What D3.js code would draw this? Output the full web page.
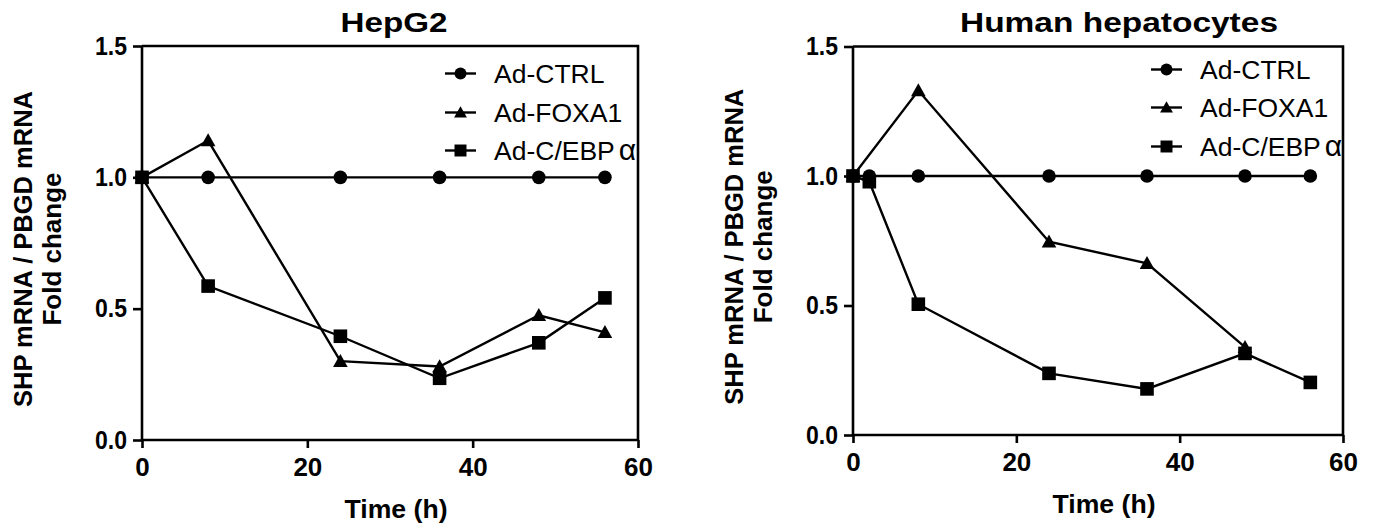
<!DOCTYPE html>
<html><head><meta charset="utf-8">
<script src="https://cdn.jsdelivr.net/npm/d3@7"></script>
<style>
body{margin:0;background:#fff;}
svg{display:block;}
text{font-family:"Liberation Sans",Arial,Helvetica,sans-serif;fill:#000;}
</style>
</head><body>
<svg id="chart" width="1385" height="526"></svg>
<script>
// ---------------- DATA ----------------
const seriesNames = ["Ad-CTRL", "Ad-FOXA1", "Ad-C/EBP"];
const seriesShapes = ["circle", "triangle", "square"];
const xTickValues = [0, 20, 40, 60];
const yTickValues = [0, 0.5, 1.0, 1.5];
const yTickLabels = ["0.0", "0.5", "1.0", "1.5"];

// HepG2
const hepTitle = "HepG2";
const hepCtrlTime = [0, 8, 24, 36, 48, 56];
const hepCtrlVal = [1.0, 1.0, 1.0, 1.0, 1.0, 1.0];
const hepFoxa1Time = [0, 8, 24, 36, 48, 56];
const hepFoxa1Val = [1.0, 1.14, 0.30, 0.28, 0.475, 0.41];
const hepCebpaTime = [0, 8, 24, 36, 48, 56];
const hepCebpaVal = [1.0, 0.586, 0.395, 0.235, 0.37, 0.541];

// Human hepatocytes
const humTitle = "Human hepatocytes";
const humCtrlTime = [0, 2, 8, 24, 36, 48, 56];
const humCtrlVal = [1.0, 1.0, 1.0, 1.0, 1.0, 1.0, 1.0];
const humFoxa1Time = [0, 8, 24, 36, 48];
const humFoxa1Val = [1.0, 1.33, 0.746, 0.663, 0.339];
const humCebpaTime = [0, 2, 8, 24, 36, 48, 56];
const humCebpaVal = [1.0, 0.978, 0.505, 0.238, 0.178, 0.315, 0.203];

const xLabel = "Time (h)";
const yLabel1 = "SHP mRNA / PBGD mRNA";
const yLabel2 = "Fold change";

// ---------------- LAYOUT ----------------
const panels = [
  { title: hepTitle, left: 142, right: 638, bottom: 440, top: 46,
    titleX: 394, titleW: 107, legendX: 445, legendY: [83, 122, 160],
    series: [[hepCtrlTime, hepCtrlVal], [hepFoxa1Time, hepFoxa1Val], [hepCebpaTime, hepCebpaVal]] },
  { title: humTitle, left: 853, right: 1343, bottom: 435, top: 46.5,
    titleX: 1119, titleW: 318, legendX: 1151, legendY: [79, 117, 156],
    series: [[humCtrlTime, humCtrlVal], [humFoxa1Time, humFoxa1Val], [humCebpaTime, humCebpaVal]] }
];

const svg = d3.select("#chart");
const AX_W = 2.6, LINE_W = 2.4;

function drawMarker(g, shape, x, y, s) {
  if (shape === "circle") {
    g.append("circle").attr("cx", x).attr("cy", y).attr("r", 6.8 * s).attr("fill", "#000");
  } else if (shape === "square") {
    const h = 6.8 * s;
    g.append("rect").attr("x", x - h).attr("y", y - h).attr("width", 2 * h).attr("height", 2 * h).attr("fill", "#000");
  } else {
    const w = 7.3 * s, hu = 7.2 * s, hd = 5.8 * s;
    g.append("path").attr("d", `M${x - w},${y + hd}L${x + w},${y + hd}L${x},${y - hu}Z`).attr("fill", "#000");
  }
}

panels.forEach(p => {
  const g = svg.append("g");
  const x = d3.scaleLinear().domain([0, 60]).range([p.left, p.right]);
  const y = d3.scaleLinear().domain([0, 1.5]).range([p.bottom, p.top]);

  // frame (top + right)
  g.append("path").attr("d", `M${p.left},${p.top}H${p.right}V${p.bottom}`)
    .attr("fill", "none").attr("stroke", "#000").attr("stroke-width", AX_W);

  // x axis
  const xa = g.append("g").attr("transform", `translate(0,${p.bottom})`)
    .call(d3.axisBottom(x).tickValues(xTickValues).tickSize(8).tickPadding(10).tickFormat(d3.format("d")));
  // y axis
  const ya = g.append("g").attr("transform", `translate(${p.left},0)`)
    .call(d3.axisLeft(y).tickValues(yTickValues).tickSize(9).tickPadding(6)
      .tickFormat((d, i) => yTickLabels[i]));
  [xa, ya].forEach(a => {
    a.select(".domain").attr("stroke", "#000").attr("stroke-width", AX_W);
    a.selectAll(".tick line").attr("stroke", "#000").attr("stroke-width", AX_W);
    a.selectAll(".tick text").attr("font-size", 26).attr("font-weight", "bold")
      .attr("font-family", '"Liberation Sans",Arial,sans-serif').attr("fill", "#000");
  });
  ya.selectAll(".tick text").attr("textLength", 32).attr("lengthAdjust", "spacingAndGlyphs");
  xa.selectAll(".tick text").attr("dy", "0.71em");
  xa.select(".domain").attr("d", `M${p.left},0H${p.right}`);
  ya.select(".domain").attr("d", `M0,${p.bottom}V${p.top}`);

  // title
  g.append("text").attr("x", p.titleX).attr("y", 32).attr("text-anchor", "middle")
    .attr("font-size", 28).attr("font-weight", "bold")
    .attr("textLength", p.titleW).attr("lengthAdjust", "spacingAndGlyphs").text(p.title);

  // x label
  const cx = (p.left + p.right) / 2 + 6;
  g.append("text").attr("x", cx).attr("y", p.bottom + 78).attr("text-anchor", "middle")
    .attr("font-size", 26).attr("font-weight", "bold")
    .attr("textLength", 103).attr("lengthAdjust", "spacingAndGlyphs").text(xLabel);

  // y label
  const cy = (p.top + p.bottom) / 2 + 6;
  g.append("text").attr("transform", `translate(${p.left - 110},${cy}) rotate(-90)`)
    .attr("text-anchor", "middle").attr("font-size", 26).attr("font-weight", "bold")
    .attr("textLength", 316).attr("lengthAdjust", "spacingAndGlyphs").text(yLabel1);
  g.append("text").attr("transform", `translate(${p.left - 81},${cy}) rotate(-90)`)
    .attr("text-anchor", "middle").attr("font-size", 26).attr("font-weight", "bold").text(yLabel2);

  // series
  const line = d3.line().x(d => x(d[0])).y(d => y(d[1]));
  p.series.forEach((s, si) => {
    const pts = s[0].map((t, i) => [t, s[1][i]]);
    g.append("path").attr("d", line(pts)).attr("fill", "none")
      .attr("stroke", "#000").attr("stroke-width", LINE_W).attr("stroke-linejoin", "miter");
    pts.forEach(d => drawMarker(g, seriesShapes[si], x(d[0]), y(d[1]), 1));
  });

  // legend
  seriesNames.forEach((name, i) => {
    const ly = p.legendY[i] - 9.5;
    g.append("line").attr("x1", p.legendX).attr("x2", p.legendX + 31).attr("y1", ly).attr("y2", ly)
      .attr("stroke", "#000").attr("stroke-width", LINE_W);
    drawMarker(g, seriesShapes[i], p.legendX + 15.5, ly, 0.88);
    const t = g.append("text").attr("x", p.legendX + 49).attr("y", p.legendY[i])
      .attr("font-size", 26.5).text(name);
    if (i === 2) t.append("tspan").attr("dx", 4).attr("font-size", 30).text("α");
  });
});
</script>
</body></html>
